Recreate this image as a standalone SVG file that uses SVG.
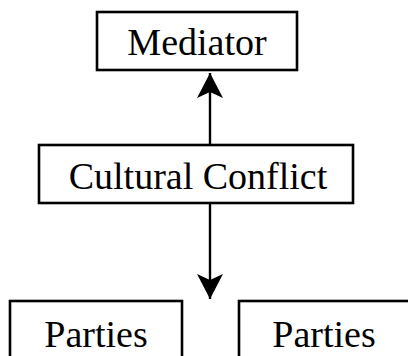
<svg xmlns="http://www.w3.org/2000/svg" width="408" height="356" viewBox="0 0 408 356">
<style>
.box{fill:#fff;stroke:#000;stroke-width:2.6}
.lbl{font-family:"Liberation Serif","Times New Roman",serif;font-size:38px;fill:#000;text-anchor:middle}
.conn{stroke:#000;stroke-width:2.4;fill:none}
</style>
<defs>
<marker id="ah" markerUnits="userSpaceOnUse" viewBox="-26 -14 28 28" refX="0" refY="0" markerWidth="28" markerHeight="28" orient="auto">
<path d="M0,0 L-25,-13 L-19,0 L-25,13 Z" fill="#000"/>
</marker>
</defs>
<rect width="408" height="356" fill="#fff"/>
<g id="connectors">
<line class="conn" x1="210" y1="145" x2="210" y2="73" marker-end="url(#ah)"/>
<line class="conn" x1="210" y1="203" x2="210" y2="299" marker-end="url(#ah)"/>
</g>
<g id="mediator">
<rect class="box" x="97" y="12" width="200" height="58"/>
<text class="lbl" x="197" y="55">Mediator</text>
</g>
<g id="cultural-conflict">
<rect class="box" x="39" y="145" width="314" height="58"/>
<text class="lbl" x="198" y="189">Cultural Conflict</text>
</g>
<g id="parties-left">
<rect class="box" x="10" y="301" width="172" height="80"/>
<text class="lbl" x="96" y="347">Parties</text>
</g>
<g id="parties-right">
<rect class="box" x="239" y="301" width="200" height="80"/>
<text class="lbl" x="324" y="347">Parties</text>
</g>
</svg>
